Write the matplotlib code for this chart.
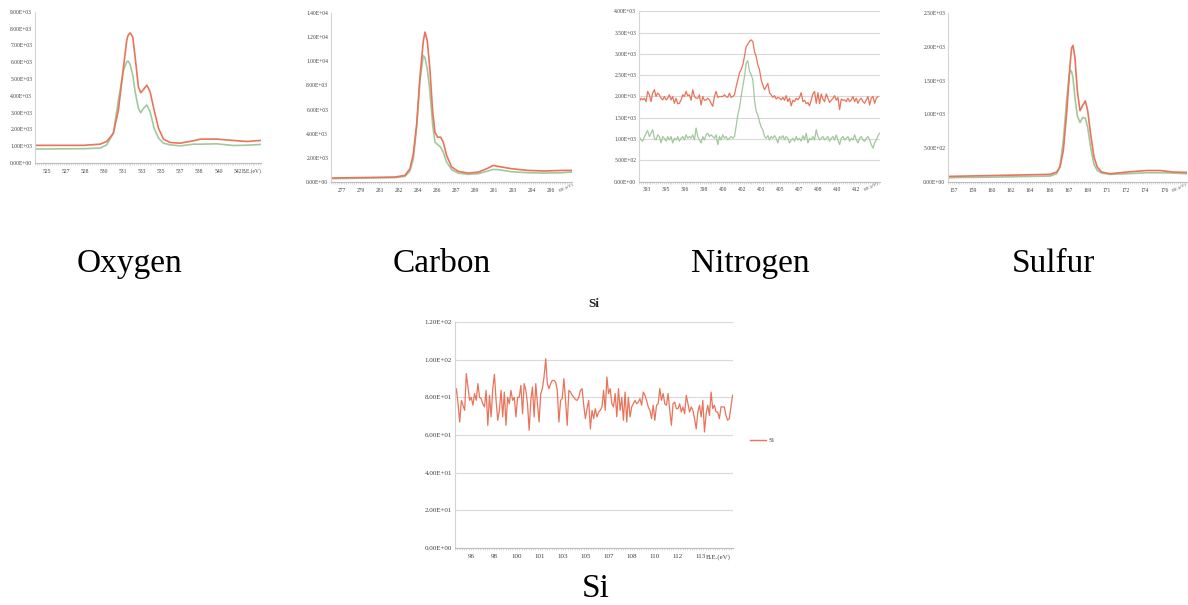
import numpy as np
import matplotlib.pyplot as plt

W, H = 1188, 605
RED = '#e8745b'
GREEN = '#a2c89e'
SERIF = 'Liberation Serif'

# ---- Oxygen (O1s) ----
o_ev = [524.05, 528.27, 529.76, 530.35, 530.94, 531.39, 531.84, 532.13, 532.25, 532.43,
        532.67, 532.88, 533.17, 533.38, 533.62, 533.92, 534.21, 534.57, 534.96, 535.40,
        536.00, 536.89, 538.08, 538.67, 540.16, 541.64, 542.83, 544.02]
o_red = [1050, 1050, 1120, 1280, 1770, 3150, 5700, 7290, 7590, 7740,
         7490, 6300, 4530, 4180, 4370, 4630, 4240, 3150, 2070, 1420,
         1220, 1180, 1320, 1420, 1420, 1340, 1280, 1340]
o_green = [830, 850, 890, 1080, 1770, 3740, 5520, 6010, 6070, 5870,
           5220, 4240, 3250, 2990, 3250, 3450, 3050, 2070, 1480, 1180,
           1080, 1020, 1120, 1120, 1140, 1040, 1060, 1100]
o_labels = ['525', '527', '528', '530', '531', '533', '535', '537', '538', '540', '542']

# ---- Carbon (C1s) ----
c_ev = [276.31, 281.96, 282.85, 283.29, 283.59, 283.89, 284.18, 284.48, 284.63, 284.84,
        285.08, 285.31, 285.52, 285.76, 286.03, 286.26, 286.56, 287.01, 287.60, 288.49,
        289.39, 290.13, 290.72, 291.17, 292.36, 293.84, 295.33, 296.82, 297.71]
c_red = [330, 410, 550, 1100, 2330, 4800, 8650, 11680, 12420, 11680,
         9200, 5900, 4120, 3710, 3710, 3300, 2200, 1240, 880, 740,
         820, 1100, 1370, 1290, 1100, 960, 910, 960, 960]
c_green = [275, 360, 470, 910, 1920, 4530, 8380, 10490, 10300, 9340,
           7420, 4800, 3300, 3100, 2880, 2470, 1650, 1020, 740, 630,
           690, 880, 1040, 1020, 850, 770, 740, 770, 820]
c_labels = ['277', '279', '281', '282', '284', '286', '287', '289', '291', '293', '294', '296']

# ---- Nitrogen (N1s) ----
n_red = [1880, 1960, 1920, 1960, 1880, 2120, 2040, 1880, 2080, 2160,
         2000, 2080, 2040, 1960, 1920, 2000, 1920, 1960, 2040, 1920,
         2000, 1840, 1960, 1830, 1840, 1920, 2040, 2000, 2120, 2020,
         2040, 1910, 2160, 2000, 1960, 1960, 2040, 1800, 2000, 1910,
         1920, 1960, 1920, 1840, 1770, 2000, 2120, 1980, 2000, 2000,
         2000, 2040, 2000, 1980, 2080, 1980, 2000, 2040, 2230, 2390,
         2550, 2630, 2740, 2940, 3170, 3230, 3290, 3330, 3290, 3050,
         2940, 2740, 2630, 2390, 2270, 2160, 2230, 2310, 2090, 2040,
         1980, 2020, 1940, 1980, 1960, 1920, 1980, 1910, 2020, 1880,
         1960, 1780, 1910, 1880, 1960, 1920, 1980, 2090, 1880, 1910,
         1830, 1860, 1780, 1920, 2060, 2120, 1840, 2090, 1830, 2060,
         1940, 1880, 2060, 1960, 1860, 1910, 1960, 2020, 1910, 1980,
         1690, 1940, 1910, 1920, 1880, 1960, 1880, 1920, 2000, 1880,
         1960, 1840, 1920, 1960, 1880, 1840, 1920, 2000, 1800, 1960,
         2000, 1840, 1960, 2000]
n_green = [1060, 980, 950, 1050, 1130, 1200, 1060, 1140, 1220, 1020,
           980, 1100, 1060, 910, 1060, 1020, 950, 1060, 980, 1060,
           910, 1020, 980, 1060, 950, 1020, 1060, 980, 1100, 1020,
           1060, 1020, 1100, 980, 1260, 1060, 980, 910, 1060, 980,
           1100, 1140, 1060, 1100, 1060, 1020, 1100, 870, 1060, 980,
           1100, 1020, 1060, 980, 1020, 1060, 1020, 1060, 1300, 1570,
           1730, 2000, 2230, 2470, 2780, 2840, 2590, 2510, 2390, 1920,
           1650, 1570, 1410, 1280, 1220, 1060, 1020, 1080, 980, 1060,
           1020, 1080, 1020, 910, 1060, 1020, 1080, 980, 1060, 1020,
           910, 980, 1020, 950, 1060, 980, 1020, 950, 1080, 980,
           1140, 910, 1020, 980, 1060, 980, 1220, 1060, 980, 1020,
           1060, 980, 1020, 1060, 950, 1020, 1060, 980, 1100, 980,
           870, 1020, 1060, 980, 1020, 1060, 950, 1020, 980, 1100,
           980, 910, 1020, 1060, 980, 950, 1020, 1060, 980, 870,
           790, 910, 980, 1080, 1140]
n_range_red = (392.34, 413.62)
n_range_green = (392.34, 413.77)
n_labels = ['393', '395', '396', '398', '400', '402', '403', '405', '407', '408', '410', '412']

# ---- Sulfur (S2p) ----
s_ev = [156.65, 161.14, 165.58, 166.17, 166.46, 166.76, 167.05, 167.29, 167.41, 167.50,
        167.62, 167.79, 168.00, 168.24, 168.47, 168.71, 168.92, 169.18, 169.48, 169.77,
        170.16, 170.90, 172.38, 174.15, 175.33, 176.52, 177.70]
s_red = [83, 98, 113, 147, 220, 465, 1005, 1590, 1840, 1985,
         2020, 1840, 1350, 1055, 1130, 1200, 1055, 710, 370, 220,
         147, 122, 147, 170, 170, 147, 142]
s_green = [64, 74, 88, 122, 235, 610, 1200, 1600, 1650, 1630,
           1535, 1250, 980, 880, 955, 945, 810, 515, 260, 170,
           132, 113, 122, 137, 137, 132, 122]
s_labels = ['157', '159', '160', '162', '164', '166', '167', '169', '171', '172', '174', '176']

# ---- Si (Si2p) ----
si_counts = [80, 84.6, 76.6, 66.9, 78.4, 75.8, 73.1, 92.6, 85.5, 78.4,
             80, 75.8, 82, 78.4, 87.3, 80, 79.3, 76.6, 74.9, 83.7,
             65.1, 81.1, 69.6, 84.6, 92.2, 78.4, 67.8, 73.1, 83.7, 69.6,
             82.8, 65.1, 80, 76.6, 83.7, 78.4, 80, 69.6, 80, 80,
             86.4, 71.3, 87.3, 83.7, 76.6, 62.5, 78.4, 85.5, 69.6, 87.3,
             76.6, 66.9, 82, 84.6, 90.8,
             100.5, 87.3, 84.6, 87.3, 89, 89, 88.1, 83.7, 66.9, 78.4,
             79.3, 89.9, 78.4, 65.1, 83.7, 82.8, 81.1, 80, 78.8, 78.4,
             80, 83.7, 84.6, 75.8, 68.7, 74, 78.4, 63.2, 73.1, 68.7,
             74, 69.6, 72.2, 73.1, 74.9, 83.7, 73.1, 90.8, 82, 84.6,
             76.6, 74.9, 82, 69.6, 84.6, 73.1, 80, 67.8, 82.8, 66.9,
             80, 69.6, 74.9, 76.6, 78.4, 76.6,
             77.5, 79.3, 75.8, 82.8, 81.1, 78.4, 74.9, 73.1, 68.7, 75.8,
             67.8, 75.8, 76.6, 84.6, 78.4, 82, 76.6, 75.8, 82, 73.1,
             65.1, 76.6, 77.5, 74, 74, 76.6, 72.2, 74.9, 71.3, 81.1,
             76.6, 72.2, 74.9, 73.1, 68.7, 63.2, 72.2, 75.8, 69.6, 78.4,
             61.6, 71.3, 75.8, 70.4, 82.8, 74, 75.8, 72.2, 72.2, 68.7,
             74.9, 74.9, 74.9, 70.4, 67.8, 68.7, 74.9, 81.1]
si_range = (94.80, 115.34)
si_labels = ['96', '98', '100', '101', '103', '105', '107', '108', '110', '112', '113']

fig = plt.figure(figsize=(W / 100, H / 100), dpi=100)
fig.patch.set_facecolor('white')


def add_axes(left, top, right, bottom):
    return fig.add_axes([left / W, 1 - bottom / H, (right - left) / W, (bottom - top) / H])


def style(ax, ymax, ystep, first_tick, n_ticks, labels, xlim, grid, fs=4, last_note='plain'):
    for s in ['top', 'right']:
        ax.spines[s].set_visible(False)
    ax.spines['left'].set_color('#d4d4d4')
    ax.spines['bottom'].set_color('#bdbdbd')
    ax.spines['left'].set_linewidth(0.8)
    ax.spines['bottom'].set_linewidth(0.8)
    ax.set_xlim(*xlim)
    ax.set_ylim(0, ymax)
    yt = np.arange(0, ymax + ystep / 2, ystep)
    ax.set_yticks(yt)
    ax.set_yticklabels(['%.2E' % v for v in yt], family=SERIF, fontsize=fs, color='#404040')
    xt = [first_tick + 1.7 * k for k in range(n_ticks)]
    ax.set_xticks(xt)
    ax.set_xticklabels(labels, family=SERIF, fontsize=fs, color='#404040')
    ax.set_xticks(np.arange(xlim[0], xlim[1], 0.17), minor=True)
    ax.tick_params(axis='y', length=0, pad=2)
    ax.tick_params(axis='x', which='major', length=0, pad=4)
    ax.tick_params(axis='x', which='minor', length=1.5, color='#cfcfcf', width=0.5)
    if grid:
        ax.yaxis.grid(True, color='#d9d9d9', lw=0.8)
    ax.set_axisbelow(True)
    if last_note == 'plain':
        ax.annotate('B.E.(eV)', xy=(xt[-1], 0), xycoords=('data', 'axes fraction'),
                    xytext=(fs * 0.75, -(fs + 4)), textcoords='offset points',
                    ha='left', va='bottom', family=SERIF, fontsize=fs, color='#404040')
    else:
        ax.annotate('B.E.(eV)', xy=(xt[-1], 0), xycoords=('data', 'axes fraction'),
                    xytext=(fs * 1.2, -(fs + 3)), textcoords='offset points', rotation=25,
                    ha='left', va='bottom', family=SERIF, fontsize=fs * 0.8, color='#505050')


# Oxygen
ax = add_axes(35, 11.7, 261, 163)
ax.plot(o_ev, o_green, color=GREEN, lw=1.2)
ax.plot(o_ev, o_red, color=RED, lw=1.2)
style(ax, 9000, 1000, 525, 11, o_labels, (523.96, 544.09), False)

# Carbon
ax = add_axes(331, 13, 572, 182)
ax.plot(c_ev, c_green, color=GREEN, lw=1.2)
ax.plot(c_ev, c_red, color=RED, lw=1.2)
style(ax, 14000, 2000, 277.2, 12, c_labels, (276.25, 297.74), False, last_note='slant')

# Nitrogen
ax = add_axes(639, 11.3, 880, 181.7)
ax.plot(np.linspace(*n_range_green, len(n_green)), n_green, color=GREEN, lw=0.9)
ax.plot(np.linspace(*n_range_red, len(n_red)), n_red, color=RED, lw=0.9)
style(ax, 4000, 500, 393, 12, n_labels, (392.31, 413.80), True, last_note='slant')

# Sulfur
ax = add_axes(948, 13, 1187, 182)
ax.plot(s_ev, s_green, color=GREEN, lw=1.2)
ax.plot(s_ev, s_red, color=RED, lw=1.2)
style(ax, 2500, 500, 157, 12, s_labels, (156.53, 177.73), False, last_note='slant')

# Si
ax = add_axes(455, 322, 733, 548)
ax.plot(np.linspace(*si_range, len(si_counts)), si_counts, color=RED, lw=0.9)
style(ax, 120, 20, 96, 11, si_labels, (94.82, 115.37), True, fs=5)
ax.set_title('Si', family=SERIF, fontsize=9.5, fontweight='bold', color='#222222', pad=11)

# legend for Si
fig.add_artist(plt.Line2D([750 / W, 766 / W], [1 - 440 / H, 1 - 440 / H], color=RED, lw=1.0))
fig.text(768 / W, 1 - 440 / H, 'Si', family=SERIF, fontsize=5, color='#404040', va='center')

# captions
for name, cx in [('Oxygen', 130), ('Carbon', 442), ('Nitrogen', 750), ('Sulfur', 1053)]:
    fig.text(cx / W, 1 - 272 / H, name, ha='center', va='baseline', family=SERIF, fontsize=24, color='black')
fig.text(596 / W, 1 - 597 / H, 'Si', ha='center', va='baseline', family=SERIF, fontsize=24, color='black')

fig.savefig('out.png', dpi=100)
